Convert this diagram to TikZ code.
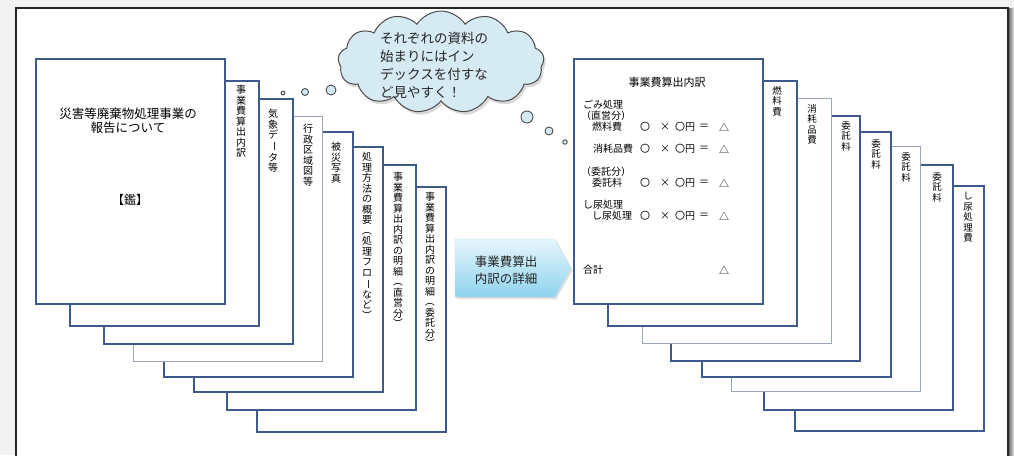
\documentclass[tikz,border=0pt]{standalone}
\usepackage{fontspec}
\newfontfamily\cjk{Noto Sans CJK JP}
\usetikzlibrary{shapes.symbols,shadows}
\definecolor{pageblue}{HTML}{3C5A8E}
\definecolor{pagegray}{HTML}{9AA6B8}
\definecolor{cloudfill}{HTML}{D6EAF4}
\definecolor{arrowtop}{HTML}{E6F6FC}
\definecolor{arrowbot}{HTML}{8ED3EE}
\newcommand\vrot[1]{\rotatebox[origin=c]{-90}{#1}}
\tikzset{
  pg/.style={draw=pageblue, line width=2pt, fill=white, minimum width=189, minimum height=245, anchor=north west, inner sep=0},
  pgthin/.style={pg, draw=pagegray, line width=1pt},
  vt/.style={anchor=north, align=center, inner sep=0, font=\cjk\fontsize{10}{10.5}\selectfont},
  vts/.style={vt, font=\cjk\fontsize{9.5}{10.5}\selectfont},
  rt/.style={anchor=west, inner sep=0, font=\cjk\fontsize{10}{12}\selectfont},
  rc/.style={anchor=center, inner sep=0, font=\cjk\fontsize{10}{12}\selectfont},
  bubble/.style={circle, draw=black!70, fill=cloudfill, line width=0.9pt, inner sep=0},
}
\begin{document}
\begin{tikzpicture}[x=1pt,y=-1pt]
\useasboundingbox (0,0) rectangle (1014,455);
\clip (0,0) rectangle (1014,455);
% background and frame
\fill[black!5] (0,0) rectangle (1014,455);
\fill[white] (16,8) rectangle (1008,460);
\shade[left color=black!55, right color=black!8] (1009,8) rectangle (1014,460);
\draw[black!85, line width=1.2pt] (16,8) rectangle (1008,470);

% ---------- left stack (back to front)
\node[pg]     (L8) at (256,186) {};
\node[pg]     (L7) at (226,164) {};
\node[pg]     (L6) at (193,146) {};
\node[pg]     (L5) at (163,131) {};
\node[pgthin] (L4) at (133,116) {};
\node[pg]     (L3) at (103,98) {};
\node[pg]     (L2) at (69,80) {};
\node[pg]     (L1) at (35,58) {};

\node[vt] (L2t) at (241,85) {事\\業\\費\\算\\出\\内\\訳};
\node[vt] (L3t) at (273,109) {気\\象\\デ\\\vrot{ー}\\タ\\等};
\node[vt] (L4t) at (308,124) {行\\政\\区\\域\\図\\等};
\node[vt] (L5t) at (336,142) {被\\災\\写\\真};
\node[vt] (L6t) at (367,152) {処\\理\\方\\法\\の\\概\\要\\\vrot{（}\\処\\理\\フ\\ロ\\\vrot{ー}\\な\\ど\\\vrot{）}};
\node[vt] (L7t) at (398,172) {事\\業\\費\\算\\出\\内\\訳\\の\\明\\細\\\vrot{（}\\直\\営\\分\\\vrot{）}};
\node[vt] (L8t) at (430,192) {事\\業\\費\\算\\出\\内\\訳\\の\\明\\細\\\vrot{（}\\委\\託\\分\\\vrot{）}};

\node[align=center, inner sep=0, font=\cjk\fontsize{12.5}{14.5}\selectfont] (L1title) at (128,121) {災害等廃棄物処理事業の\\報告について};
\node[inner sep=0, font=\cjk\fontsize{12}{14}\selectfont] (L1kan) at (130,200) {【鑑】};

% ---------- right stack
\node[pg]     (R8) at (794,185) {};
\node[pg]     (R7) at (763,164) {};
\node[pgthin] (R6) at (731,146) {};
\node[pg]     (R5) at (701,131) {};
\node[pg]     (R4) at (670,115) {};
\node[pgthin] (R3) at (642,98) {};
\node[pg]     (R2) at (607,80) {};
\node[pg]     (R1) at (573,58) {};

\node[vts] (R2t) at (777,86) {燃\\料\\費};
\node[vts] (R3t) at (812,104) {消\\耗\\品\\費};
\node[vts] (R4t) at (846,121) {委\\託\\料};
\node[vts] (R5t) at (876,139) {委\\託\\料};
\node[vts] (R6t) at (906,152) {委\\託\\料};
\node[vts] (R7t) at (937,172) {委\\託\\料};
\node[vts] (R8t) at (968,192) {し\\尿\\処\\理\\費};

\node[inner sep=0, font=\cjk\fontsize{11}{13}\selectfont] (Rtitle) at (667,82) {事業費算出内訳};
\node[rt] (g1) at (583,105) {ごみ処理};
\node[rt] (g2) at (581,116) {（直営分）};
\node[rt] (a1) at (592,127) {燃料費};
\node[rt] (b1) at (593,149) {消耗品費};
\node[rt] (g3) at (581,172) {（委託分）};
\node[rt] (c1) at (592,183) {委託料};
\node[rt] (g4) at (583,205) {し尿処理};
\node[rt] (d1) at (592,216) {し尿処理};
\foreach \yy/\nm in {127/a,149/b,183/c,216/d}{
  \node[rc] (\nm o1) at (645,\yy) {〇};
  \node[rc] (\nm x) at (665,\yy) {×};
  \node[rt] (\nm o2) at (675,\yy) {〇円};
  \node[rc] (\nm eq) at (704,\yy) {＝};
  \node[rc] (\nm tri) at (724,\yy) {△};
}
\node[rt] (sum) at (583,270) {合計};
\node[rc] (sumtri) at (724,270) {△};

% ---------- arrow
\path[shade, top color=arrowtop, bottom color=arrowbot, draw=arrowbot!80!black!40, line width=0.4pt,
      drop shadow={shadow xshift=1.5pt, shadow yshift=-2pt, fill=black!25}]
  (455,239) -- (555,239) -- (571,268) -- (555,297) -- (455,297) -- cycle;
\node[align=center, inner sep=0, font=\cjk\fontsize{12.5}{17}\selectfont, text=black!85] (arrowtxt) at (506,270) {事業費算出\\内訳の詳細};

% ---------- cloud
\node[cloud, cloud puffs=13, cloud puff arc=115, aspect=2.1, draw=black!70, fill=cloudfill, line width=1pt,
      minimum width=206, minimum height=102,
      drop shadow={shadow xshift=2pt, shadow yshift=-3pt, fill=black!30}] (cloud) at (441,62) {};
\node[anchor=north west, align=left, inner sep=0, font=\cjk\fontsize{13.5}{18}\selectfont, text=black!85] (cloudtxt) at (380,32)
  {それぞれの資料の\\始まりにはイン\\デックスを付すな\\ど見やすく！};
\node[bubble, minimum size=10] (bl3) at (331,90) {};
\node[bubble, minimum size=7] (bl2) at (305,92) {};
\node[bubble, minimum size=4] (bl1) at (283,93) {};
\node[bubble, minimum size=12] (br1) at (527,117) {};
\node[bubble, minimum size=8] (br2) at (549,131) {};
\node[bubble, minimum size=4.5] (br3) at (565,142) {};
\end{tikzpicture}
\end{document}
